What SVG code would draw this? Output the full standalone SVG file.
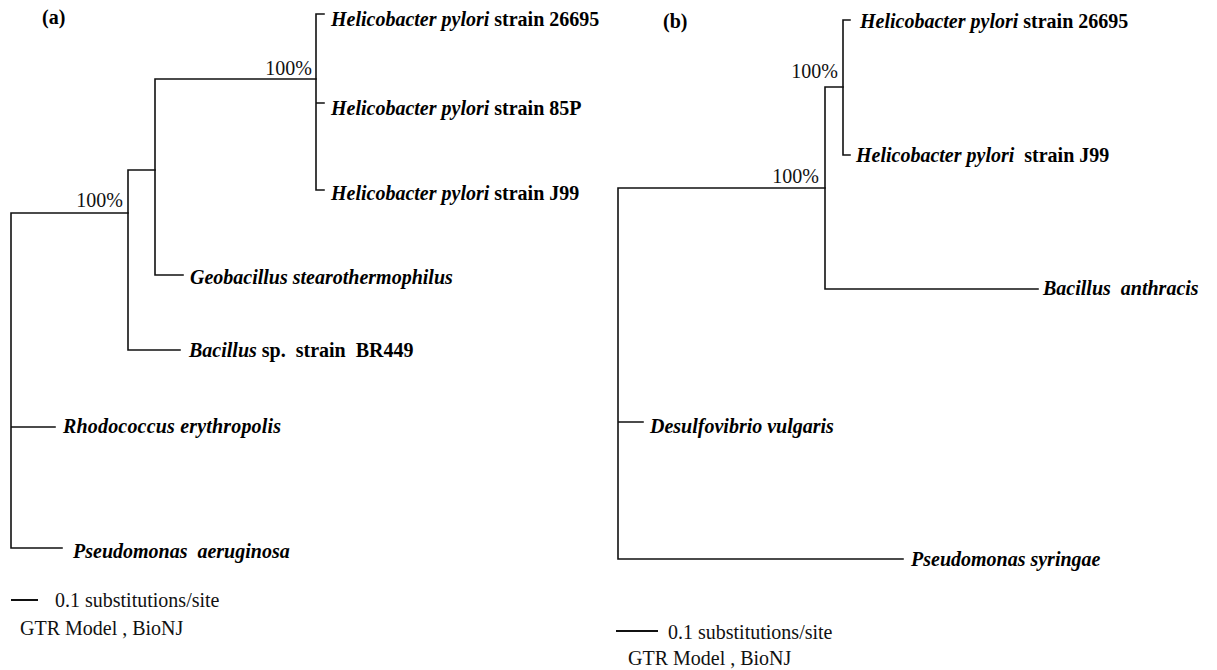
<svg xmlns="http://www.w3.org/2000/svg" width="1217" height="670" viewBox="0 0 1217 670">
<style>
.br{stroke:#111;stroke-width:1.6;fill:none;stroke-linecap:square}
.lab{font-family:"Liberation Serif","Times New Roman",serif;font-size:20px;font-weight:bold;fill:#000}
.it{font-style:italic}
.bs{font-family:"Liberation Serif","Times New Roman",serif;font-size:20px;fill:#111}
.pl{font-family:"Liberation Serif","Times New Roman",serif;font-size:20px;font-weight:bold;fill:#000}
</style>
<rect width="1217" height="670" fill="#fff"/>
<text class="pl" x="42" y="24">(a)</text>
<text class="pl" x="663" y="28">(b)</text>
<g id="connectors">
<path class="br" d="M11,213 V548 M11,213 H128 M11,427 H55 M11,548 H62"/>
<path class="br" d="M128,170 V350 M128,350 H180 M128,170 H155"/>
<path class="br" d="M155,79 V275 M155,275 H183 M155,79 H316"/>
<path class="br" d="M316,14 V190 M316,14 H324 M316,103 H324 M316,190 H324"/>
<path class="br" d="M618,188 V559 M618,188 H825 M618,422 H643 M618,559 H903"/>
<path class="br" d="M825,87 V289 M825,289 H1038 M825,87 H843"/>
<path class="br" d="M843,20 V155 M843,20 H850 M843,155 H850"/>
<path class="br" d="M12,600 H37 M617,631 H657" style="stroke-width:2"/>
</g>
<g id="support">
<text class="bs" x="312" y="75" text-anchor="end">100%</text>
<text class="bs" x="123" y="207" text-anchor="end">100%</text>
<text class="bs" x="838" y="78" text-anchor="end">100%</text>
<text class="bs" x="819" y="183" text-anchor="end">100%</text>
</g>
<g id="a-hp26695"><text class="lab" x="331" y="26"><tspan class="it">Helicobacter pylori</tspan> strain 26695</text></g>
<g id="a-hp85P"><text class="lab" x="331" y="115"><tspan class="it">Helicobacter pylori</tspan> strain 85P</text></g>
<g id="a-hpJ99"><text class="lab" x="331" y="200"><tspan class="it">Helicobacter pylori</tspan> strain J99</text></g>
<g id="a-geo"><text class="lab it" x="190" y="284">Geobacillus stearothermophilus</text></g>
<g id="a-bac"><text class="lab" x="189" y="357" xml:space="preserve"><tspan class="it">Bacillus</tspan> sp.  strain  BR449</text></g>
<g id="a-rho"><text class="lab it" x="63" y="433" textLength="218" lengthAdjust="spacing">Rhodococcus erythropolis</text></g>
<g id="a-pae"><text class="lab it" x="73" y="558" xml:space="preserve">Pseudomonas  aeruginosa</text></g>
<g id="b-hp26695"><text class="lab" x="860" y="28"><tspan class="it">Helicobacter pylori</tspan> strain 26695</text></g>
<g id="b-hpJ99"><text class="lab" x="856" y="162" xml:space="preserve"><tspan class="it">Helicobacter pylori</tspan>  strain J99</text></g>
<g id="b-ban"><text class="lab it" x="1043" y="295" xml:space="preserve">Bacillus  anthracis</text></g>
<g id="b-des"><text class="lab it" x="650" y="433">Desulfovibrio vulgaris</text></g>
<g id="b-psy"><text class="lab it" x="911" y="566">Pseudomonas syringae</text></g>
<g id="a-scale">
<text class="bs" x="55" y="607">0.1 substitutions/site</text>
<text class="bs" x="20" y="635">GTR Model , BioNJ</text>
</g>
<g id="b-scale">
<text class="bs" x="668" y="639">0.1 substitutions/site</text>
<text class="bs" x="628" y="665">GTR Model , BioNJ</text>
</g>
</svg>
